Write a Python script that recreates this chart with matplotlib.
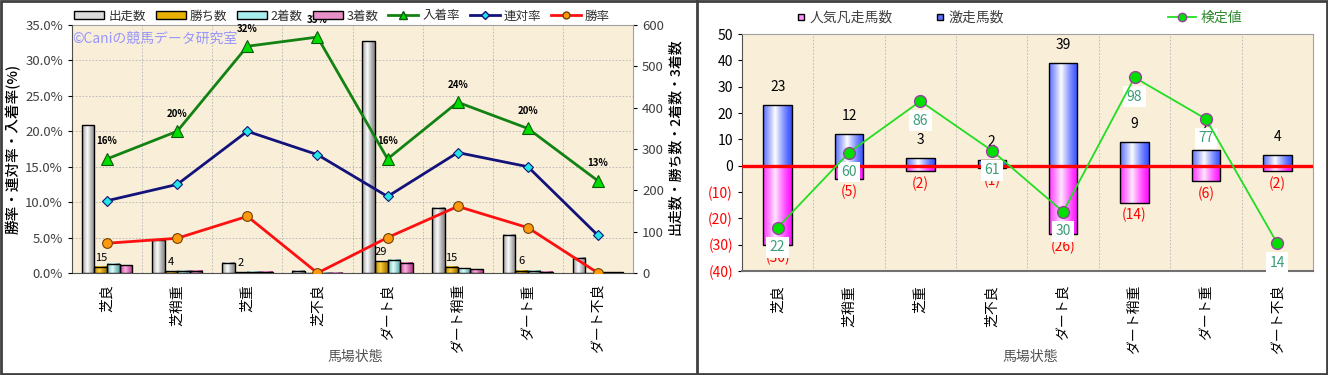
import numpy as np
import matplotlib
matplotlib.use("Agg")
import matplotlib.pyplot as plt
from matplotlib.patches import Patch, Rectangle
from matplotlib.lines import Line2D

plt.rcParams['font.family'] = ['Noto Sans CJK JP', 'DejaVu Sans']

# ---- data -------------------------------------------------------------
cats = ["芝良", "芝稍重", "芝重", "芝不良", "ダート良", "ダート稍重", "ダート重", "ダート不良"]

runs = [357, 80, 25, 6, 561, 158, 92, 37]       # 出走数
wins = [15, 4, 2, 0, 29, 15, 6, 0]              # 勝ち数
seconds = [22, 6, 3, 1, 32, 11, 5, 2]           # 2着数
thirds = [19, 6, 3, 1, 25, 9, 3, 2]             # 3着数
place_rate = [16.1, 20.0, 32.0, 33.3, 16.1, 24.1, 20.4, 13.0]   # 入着率
quinella_rate = [10.2, 12.5, 20.0, 16.7, 10.8, 17.0, 15.0, 5.3]  # 連対率
win_rate = [4.2, 4.9, 8.0, 0.0, 5.0, 9.4, 6.4, 0.0]            # 勝率

gekisou = [23, 12, 3, 2, 39, 9, 6, 4]            # 激走馬数
bonsou = [30, 5, 2, 1, 26, 14, 6, 2]             # 人気凡走馬数
kentei = [22, 60, 86, 61, 30, 98, 77, 14]        # 検定値

BG = "#f9efd9"
GRID = dict(color="#b4b4b4", lw=0.6, ls=(0, (2, 2)))


def grad(edge, center, n=64):
    e = np.array(matplotlib.colors.to_rgb(edge))
    c = np.array(matplotlib.colors.to_rgb(center))
    t = np.linspace(0, 1, n)
    k = np.clip(1 - np.abs(t - 0.42) / 0.58, 0, 1) ** 1.3
    return (e + (c - e) * k[:, None])[None, :, :]


def shaded_bars(ax, x, h, w, edge, center, z=3):
    bars = ax.bar(x, h, w, facecolor="none", edgecolor="black", lw=1.0, zorder=z + 0.1)
    img = grad(edge, center)
    for b in bars:
        if b.get_height() == 0:
            continue
        x0, y0 = b.get_xy()
        ax.imshow(img, extent=[x0, x0 + b.get_width(), y0, y0 + b.get_height()],
                  aspect="auto", interpolation="bicubic", zorder=z)
    return bars


fig = plt.figure(figsize=(13.28, 3.75), dpi=100)
xs = np.arange(len(cats))

# ==== left chart =========================================================
axc = fig.add_axes([0.0542, 0.272, 0.4225, 0.6613])
axr = axc.twinx()
axc.set_facecolor(BG)
w = 0.18
shaded_bars(axc, xs - 1.5 * w, runs, w, "#8a8a8a", "#ffffff")
shaded_bars(axc, xs - 0.5 * w, wins, w, "#a87800", "#ffd23c")
shaded_bars(axc, xs + 0.5 * w, seconds, w, "#5aaaaa", "#e4ffff")
shaded_bars(axc, xs + 1.5 * w, thirds, w, "#b83c8c", "#ffb4e4")
for i, v in enumerate(wins):
    if v:
        axc.annotate(str(v), (xs[i] - 0.5 * w, v), xytext=(0, 3), textcoords="offset points",
                     ha="center", va="bottom", fontsize=8, color="black", zorder=6)
axc.set_xlim(-0.5, 7.5)
axc.set_ylim(0, 600)
axc.set_yticks(np.arange(0, 601, 100))
axc.set_yticks(np.linspace(0, 600, 8), minor=True)
axc.set_xticks(xs)
axc.set_xticks(xs[:-1] + 0.5, minor=True)
axc.grid(True, which="minor", **GRID)
axc.grid(False, which="major")
axc.tick_params(which="minor", length=0)
axc.yaxis.tick_right()
axc.yaxis.set_label_position("right")
axc.tick_params(axis="y", labelsize=9.5, labelcolor="#404040", length=3)
axc.set_xticklabels(cats, rotation=90, fontsize=10, va="top", ha="center")
axc.tick_params(axis="x", length=0, pad=8)
axc.set_ylabel("出走数・勝ち数・2着数・3着数", fontsize=10, fontweight="medium", rotation=90)
axc.yaxis.set_label_coords(1.062, 0.55)
for s in ["top", "right"]:
    axc.spines[s].set_color("#a0a0a0")
axc.spines["bottom"].set_color("#505050")
axc.spines["left"].set_color("#505050")

axr.yaxis.tick_left()
axr.yaxis.set_label_position("left")
axr.plot(xs, place_rate, color="#128212", lw=2, marker="^", ms=8,
         mfc="#00dd00", mec="#0a5a0a", mew=0.8, zorder=5)
axr.plot(xs, quinella_rate, color="#12127a", lw=2, marker="D", ms=5.5,
         mfc="#22e6e6", mec="#12127a", mew=0.8, zorder=5)
axr.plot(xs, win_rate, color="#ff1010", lw=2, marker="o", ms=7,
         mfc="#ff9a10", mec="#704000", mew=0.8, zorder=5)
for i, v in enumerate(place_rate):
    axr.annotate(f"{v:.0f}%", (xs[i], v), xytext=(0, 9), textcoords="offset points",
                 ha="center", va="bottom", fontsize=7, fontweight="bold", color="black")
axr.set_ylim(0, 35)
axr.set_yticks(np.arange(0, 36, 5))
axr.set_yticklabels([f"{t:.1f}%" for t in np.arange(0, 36, 5)])
axr.tick_params(axis="y", labelsize=9.5, labelcolor="#404040", length=3)
axr.set_ylabel("勝率・連対率・入着率(%)", fontsize=10.5, fontweight="medium")
axr.yaxis.set_label_coords(-0.091, 0.5)
for s in axr.spines.values():
    s.set_visible(False)
axr.text(0.0, 0.945, "©Caniの競馬データ研究室", transform=axr.transAxes,
         fontsize=10, color="#8c8cff", ha="left", va="center", alpha=0.9)

fig.text(355 / 1328, 1 - 357 / 375, "馬場状態", fontsize=10, color="#505050",
         ha="center", va="center")

hl = [Patch(facecolor="#dcdcdc", edgecolor="black", label="出走数"),
      Patch(facecolor="#e8b000", edgecolor="black", label="勝ち数"),
      Patch(facecolor="#a8eeee", edgecolor="black", label="2着数"),
      Patch(facecolor="#e890c8", edgecolor="black", label="3着数"),
      Line2D([], [], color="#128212", lw=2, marker="^", ms=6, mfc="#00dd00",
             mec="#0a5a0a", label="入着率"),
      Line2D([], [], color="#12127a", lw=2, marker="D", ms=4, mfc="#22e6e6",
             mec="#12127a", label="連対率"),
      Line2D([], [], color="#ff1010", lw=2, marker="o", ms=5, mfc="#ff9a10",
             mec="#704000", label="勝率")]
fig.legend(handles=hl, loc="center", bbox_to_anchor=(342 / 1328, 1 - 16 / 375), ncol=7,
           frameon=False, fontsize=9, handlelength=2.4, handleheight=0.55,
           handletextpad=0.3, columnspacing=0.8, labelcolor="#303030")

# ==== right chart ========================================================
ax = fig.add_axes([0.5587, 0.2773, 0.43, 0.632])
ax.set_facecolor(BG)
bw = 0.4
shaded_bars(ax, xs, gekisou, bw, "#3a52ff", "#ffffff")
shaded_bars(ax, xs, [-v for v in bonsou], bw, "#ff10ff", "#ffe8ff")
ax.axhline(0, color="#ff0000", lw=2.4, zorder=4)
for i in range(len(cats)):
    ax.annotate(str(gekisou[i]), (xs[i], gekisou[i]), xytext=(0, 8), textcoords="offset points",
                ha="center", va="bottom", fontsize=10, color="black", zorder=6)
    ax.annotate(f"({bonsou[i]})", (xs[i], -bonsou[i]), xytext=(0, -4), textcoords="offset points",
                ha="center", va="top", fontsize=10, color="#ff0000", zorder=6)
ax.set_xlim(-0.5, 7.5)
ax.set_ylim(-40, 50)
yt = np.arange(-40, 51, 10)
ax.set_yticks(yt)
ax.set_yticklabels([str(t) if t >= 0 else f"({-t})" for t in yt])
for lab, t in zip(ax.get_yticklabels(), yt):
    lab.set_color("black" if t >= 0 else "#ff0000")
ax.tick_params(axis="y", labelsize=10, length=3)
ax.set_xticks(xs)
ax.set_xticklabels(cats, rotation=90, fontsize=10, va="top", ha="center")
ax.tick_params(axis="x", length=0, pad=10)
ax.set_yticks(yt, minor=True)
ax.set_xticks(xs[:-1] + 0.5, minor=True)
ax.grid(True, which="minor", **GRID)
ax.tick_params(which="minor", length=0)
for s in ["top", "right"]:
    ax.spines[s].set_color("#a0a0a0")
ax.spines["left"].set_color("#505050")
ax.spines["bottom"].set_color("#707070")
ax.spines["bottom"].set_linewidth(1.5)

ak = ax.twinx()
ak.plot(xs, kentei, color="#22dd22", lw=1.3, marker="o", ms=8.5,
        mfc="#00e000", mec="#9a40a0", mew=1, zorder=5)
for i, v in enumerate(kentei):
    ak.annotate(str(v), (xs[i], v), xytext=(0, -9), textcoords="offset points",
                ha="center", va="top", fontsize=10, color="#3c9c78",
                bbox=dict(boxstyle="square,pad=0.25", fc="white", ec="none"))
ak.set_ylim(0, 120)
ak.set_yticks([])
for s in ak.spines.values():
    s.set_visible(False)

fig.text(1030 / 1328, 1 - 357 / 375, "馬場状態", fontsize=10, color="#505050",
         ha="center", va="center")

hr = [Line2D([], [], ls="none", marker="s", ms=5, mfc="#ff90ff", mec="black", label="人気凡走馬数"),
      Line2D([], [], ls="none", marker="s", ms=5, mfc="#6070ff", mec="black", label="激走馬数")]
fig.legend(handles=hr, loc="center", bbox_to_anchor=(900 / 1328, 1 - 18 / 375), ncol=2,
           frameon=False, fontsize=10, handlelength=0.8, handletextpad=0.2,
           columnspacing=3.0, labelcolor="#404040")
hk = [Line2D([], [], color="#22dd22", lw=1.3, marker="o", ms=6, mfc="#00e000",
             mec="#9a40a0", label="検定値")]
fig.legend(handles=hk, loc="center", bbox_to_anchor=(1205 / 1328, 1 - 18 / 375),
           frameon=False, fontsize=10, handlelength=2.0, handletextpad=0.3,
           labelcolor="#2e8b2e")

# panel frames
fig.add_artist(Rectangle((0.001, 0.002), 0.998, 0.996, transform=fig.transFigure,
                         fill=False, edgecolor="#404040", lw=2))
fig.add_artist(Line2D([697 / 1328, 697 / 1328], [0, 1], transform=fig.transFigure,
                      color="#404040", lw=2))

fig.savefig("out.png", dpi=100)
